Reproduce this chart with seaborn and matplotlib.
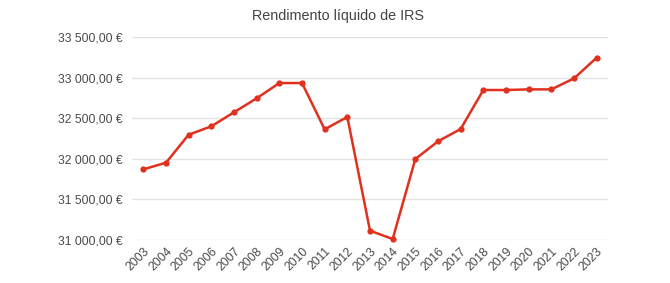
import pandas as pd
import matplotlib
matplotlib.use('Agg')
import matplotlib.pyplot as plt
import seaborn as sns
from matplotlib.ticker import FuncFormatter

# 데이터
anos = list(range(2003, 2024))
rendimento = [31870, 31952, 32297, 32400, 32573, 32745, 32933, 32933, 32363, 32515,
              31115, 31012, 31997, 32215, 32367, 32847, 32847, 32855, 32855, 32990, 33245]
titulo = 'Rendimento líquido de IRS'

df = pd.DataFrame({'ano': anos, 'rendimento': rendimento})

sns.set_theme(style='white')
plt.rcParams['font.family'] = ['Liberation Sans', 'DejaVu Sans']

fig = plt.figure(figsize=(6.7, 2.83), dpi=100)
ax = fig.add_axes([132 / 670, 1 - 240 / 283, (608 - 132) / 670, (240 - 37) / 283])

sns.lineplot(data=df, x='ano', y='rendimento', ax=ax, color='#e0301e', linewidth=1.8,
             marker='o', markersize=4.5, markeredgewidth=0, clip_on=False)

ax.set_ylim(31000, 33500)
ax.set_yticks([31000, 31500, 32000, 32500, 33000, 33500])
ax.set_xlim(2002.5, 2023.5)
ax.set_xticks(anos)
ax.set_xticklabels([str(a) for a in anos], rotation=45, ha='right', rotation_mode='anchor')


def fmt_euro(v, pos):
    s = f'{v:,.2f}'.replace(',', ' ').replace('.', ',')
    return s + ' €'


ax.yaxis.set_major_formatter(FuncFormatter(fmt_euro))
ax.grid(axis='y', color='#e3e3e3', linewidth=1)
ax.set_axisbelow(True)
for s in ax.spines.values():
    s.set_visible(False)
ax.tick_params(axis='both', length=0, labelsize=8.7, labelcolor='#4a4a4a')
ax.tick_params(axis='y', pad=7)
ax.tick_params(axis='x', pad=4)
ax.set_xlabel('')
ax.set_ylabel('')

fig.text(338 / 670, 1 - 16 / 283, titulo, ha='center', va='center', fontsize=10.4, color='#444444')

fig.savefig('out.png', dpi=100)
